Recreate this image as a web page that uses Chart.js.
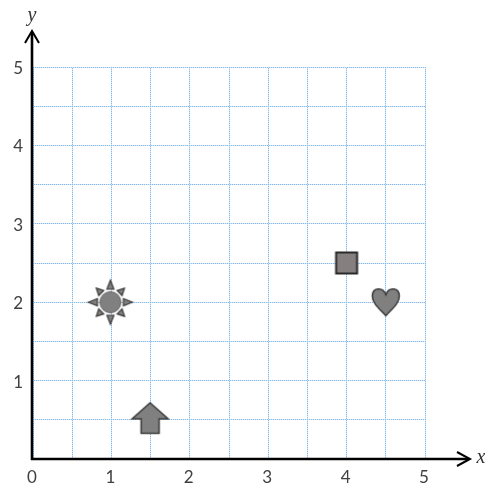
<!DOCTYPE html>
<html>
<head>
<meta charset="utf-8">
<style>
    html, body { margin: 0; padding: 0; background: #fff; }
    canvas { display: block; }
</style>
<script src="https://cdn.jsdelivr.net/npm/chart.js@4"></script>
</head>
<body>
<canvas id="chart" width="485" height="483"></canvas>
<script>
const shapeNames = ["sun", "arrow", "square", "heart"];
const shapeX = [1, 1.5, 4, 4.5];
const shapeY = [2, 0.5, 2.5, 2];
const xTickLabels = ["0", "1", "2", "3", "4", "5"];
const yTickLabels = ["1", "2", "3", "4", "5"];

const FILL = "#808080";
const STROKE = "#3a3a3a";

function makeIcon(size, draw) {
    const c = document.createElement("canvas");
    c.width = size;
    c.height = size;
    const ctx = c.getContext("2d");
    ctx.translate(size / 2, size / 2);
    ctx.fillStyle = FILL;
    ctx.strokeStyle = STROKE;
    ctx.lineJoin = "miter";
    draw(ctx);
    return c;
}

// dotted look for the grid lines: 2x2 checker of strong and pale blue
function dottedPattern() {
    const c = document.createElement("canvas");
    c.width = 2;
    c.height = 2;
    const ctx = c.getContext("2d");
    ctx.fillStyle = "#d2e6f8";
    ctx.fillRect(0, 0, 2, 2);
    ctx.fillStyle = "#86bbec";
    ctx.fillRect(0, 0, 1, 1);
    ctx.fillRect(1, 1, 1, 1);
    return ctx.createPattern(c, "repeat");
}

const gridDots = dottedPattern();

const icons = {
    sun: makeIcon(50, ctx => {
        ctx.translate(-1, 0);
        ctx.lineWidth = 1.2;
        for (let i = 0; i < 8; i++) {
            const tip = i % 2 === 0 ? 22 : 20;
            ctx.save();
            ctx.rotate(i * Math.PI / 4);
            ctx.beginPath();
            ctx.moveTo(0, -tip);
            ctx.lineTo(3.5, -13);
            ctx.lineTo(-3.5, -13);
            ctx.closePath();
            ctx.fill();
            ctx.stroke();
            ctx.restore();
        }
        ctx.strokeStyle = "#666";
        ctx.lineWidth = 1;
        ctx.beginPath();
        ctx.arc(0, 0, 10.5, 0, Math.PI * 2);
        ctx.fill();
        ctx.stroke();
    }),
    arrow: makeIcon(50, ctx => {
        ctx.translate(-0.5, 0);
        ctx.lineWidth = 1.5;
        ctx.beginPath();
        ctx.moveTo(0, -17);
        ctx.lineTo(18, -1);
        ctx.lineTo(9, -1);
        ctx.lineTo(9, 13.5);
        ctx.lineTo(-9, 13.5);
        ctx.lineTo(-9, -1);
        ctx.lineTo(-18, -1);
        ctx.closePath();
        ctx.fill();
        ctx.stroke();
    }),
    square: makeIcon(40, ctx => {
        ctx.lineWidth = 2;
        ctx.fillStyle = "#857f7f";
        ctx.strokeStyle = "#2a2a2a";
        ctx.beginPath();
        ctx.rect(-10.5, -10.5, 21, 21);
        ctx.fill();
        ctx.stroke();
    }),
    heart: makeIcon(40, ctx => {
        ctx.lineWidth = 1.5;
        ctx.beginPath();
        ctx.moveTo(0, 13.5);
        ctx.bezierCurveTo(-6, 7, -13.5, 1, -13.5, -6);
        ctx.bezierCurveTo(-13.5, -15, -3, -16, 0, -7.5);
        ctx.bezierCurveTo(3, -16, 13.5, -15, 13.5, -6);
        ctx.bezierCurveTo(13.5, 1, 6, 7, 0, 13.5);
        ctx.closePath();
        ctx.fill();
        ctx.stroke();
    })
};

// axis lines with arrow heads and the x / y letters
const axisArrows = {
    id: "axisArrows",
    afterDraw(chart) {
        const ctx = chart.ctx;
        const x0 = chart.scales.x.getPixelForValue(0) - 1;
        const y0 = chart.scales.y.getPixelForValue(0);
        const tipX = x0 + 438;
        const tipY = y0 - 428;

        ctx.save();
        ctx.strokeStyle = "#000";
        ctx.lineWidth = 2.6;
        ctx.beginPath();
        ctx.moveTo(x0, y0 + 1);
        ctx.lineTo(x0, tipY + 1);
        ctx.moveTo(x0 - 1, y0);
        ctx.lineTo(tipX - 1, y0);
        ctx.stroke();

        ctx.lineWidth = 2;
        ctx.beginPath();
        ctx.moveTo(x0 - 7, tipY + 12);
        ctx.lineTo(x0, tipY);
        ctx.lineTo(x0 + 7, tipY + 12);
        ctx.moveTo(tipX - 13, y0 - 7);
        ctx.lineTo(tipX, y0);
        ctx.lineTo(tipX - 13, y0 + 7);
        ctx.stroke();

        ctx.fillStyle = "#333";
        ctx.font = "italic 20px 'Liberation Serif'";
        ctx.textAlign = "center";
        ctx.textBaseline = "middle";
        ctx.fillText("y", x0, tipY - 15);
        ctx.fillText("x", tipX + 11, y0 - 1);
        ctx.restore();
    }
};

new Chart(document.getElementById("chart"), {
    type: "scatter",
    data: {
        datasets: [{
            data: shapeX.map((x, i) => ({ x: x, y: shapeY[i] })),
            pointStyle: shapeNames.map(n => icons[n]),
            pointRadius: 10,
            showLine: false
        }]
    },
    options: {
        responsive: false,
        animation: false,
        layout: { padding: { top: 67, right: 60, bottom: 0, left: 0 } },
        plugins: { legend: { display: false }, tooltip: { enabled: false } },
        scales: {
            x: {
                type: "linear",
                min: 0,
                max: 5,
                afterFit: s => { s.height = 24; },
                border: { display: false },
                grid: { color: gridDots, lineWidth: 1, drawTicks: false },
                ticks: {
                    stepSize: 0.5,
                    autoSkip: false,
                    maxRotation: 0,
                    padding: 8,
                    labelOffset: -1,
                    color: "#404040",
                    font: { family: "Lato", size: 17 },
                    callback: v => xTickLabels.includes(String(v)) ? String(v) : ""
                }
            },
            y: {
                type: "linear",
                min: 0,
                max: 5,
                afterFit: s => { s.width = 33; },
                border: { display: false },
                grid: { color: gridDots, lineWidth: 1, drawTicks: false },
                ticks: {
                    stepSize: 0.5,
                    autoSkip: false,
                    padding: 10,
                    labelOffset: 1.5,
                    color: "#404040",
                    font: { family: "Lato", size: 17 },
                    callback: v => yTickLabels.includes(String(v)) ? String(v) : ""
                }
            }
        }
    },
    plugins: [axisArrows]
});
</script>
</body>
</html>
